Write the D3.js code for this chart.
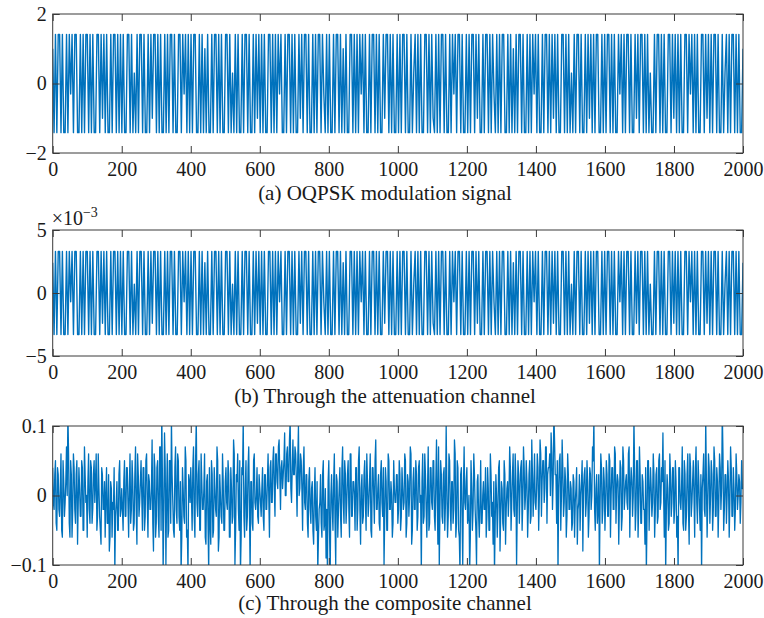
<!DOCTYPE html>
<html>
<head>
<meta charset="utf-8">
<script src="https://cdn.jsdelivr.net/npm/d3@7"></script>
<style>
  body { margin: 0; background: #fff; }
  svg { display: block; }
  text { font-family: "Liberation Serif", "Times New Roman", serif; fill: #1a1a1a; }
</style>
</head>
<body>
<div id="chart"></div>
<script>
// Shared sample axis
const sampleCount = 2000;
const xTicks = [0, 200, 400, 600, 800, 1000, 1200, 1400, 1600, 1800, 2000];

// OQPSK waveform, one vertex every ~4 samples.
// A/a = +-peak, B/b = shoulder level, C/c = near-zero kink
const oqpskSymbols = [
  'BaAaAAaAaaAaAcAaAAaaAaAaAAaAaAaaAAaAbAaAaaAaAAaAaA',
  'aAaaAAaAaCaAaAAaAaaAaAbAAaAaAaaAaAaAAaAaaAAaAcAaAa',
  'AaAAaaAaAaBaAaaAaAAaAaAaaAAaAaCaAaAaaAaAAaAaaAaAbA',
  'aAaAaaAAaAaAaAcAaaAaAAaAaAaaAbAaAAaAaaAaAaAAaAcaAa',
  'AaaAaAAaAaBaAaaAAaAaAaAcAaAaaAaAAaAaAaaAbAAaAaAaaA',
  'aAaAAaAaaAaCAaAaAaaAAaAaAbaAaAaAAaAaaAaAcAaAAaAaaA',
  'aAaAAaAbAaaAaAAaAaAcaAaAaAAaaAaAaBaAaAAaAaaAaAaAcA',
  'aAaaAaAAaAaAbAaAaaAAaAaAaCaAaAAaAaaAaAbAaAaAAaaAaA',
  'aAAaAaAaaAcAaAaAAaAaaAbAaAAaAaAaCaaAaAAaAaAaaAAaAb',
  'AaAaAaaAAaAcAaAaAaaAAaAbAaAaAAaAaaAaCAaAaAAaAaAaaB'
].join('');

// level of each symbol in panel (a) and after attenuation in panel (b)
const oqpskLevels = { A: 1.414, a: -1.414, B: 1.0, b: -1.0, C: 0.3, c: -0.3 };
const attenuatedLevels = { A: 3.3e-3, a: -3.3e-3, B: 2.4e-3, b: -2.4e-3, C: 0.7e-3, c: -0.7e-3 };

// Composite channel output. Letter scale: A = -0.12 ... M = 0 ... Y = +0.12 (0.01 steps)
const compositeScale = 'ABCDEFGHIJKLMNOPQRSTUVWXY';
// even vertices (every 4 samples)
const compositeEven = [
  'QKRHPJSGOLTYIRGSKPFQJRHTLGSIQKROHSJFPKGQIEOGKBLHPJ',
  'NHRJQGSKOITFPLRHQJSGOKUEQIRGTYBVCSHRXLGTIRHBQJTGBO',
  'QHTGXJRHOKSFPBIRGQKTEPJSHOLRGQIUCPSHBQXGRJTBOHSKQI',
  'NJQHPKSGRLTJSNUKRPVMTOXLUPSJWNRHTKPGQIOFQHBKPGRIDB',
  'RBPHSCOKQGTIPLRGSJOHQKTFPJRHOLSGQIUKPHRJCQHSKOGRLP',
  'IRHQKSGPJTFOKRHQLBSJPGTIQKRHUFCRJPHWGSKOIUGRHBQCTK',
  'QJBRHSKCPGRIOKGQHSJFBPGQEOIRFNJTHPKSCRIQHTKRGPIUJS',
  'KSHUJRLTIQSVKYPIBRHUJQGSKOHPGNFLHOEPJRGQKTXHPKBSIQ',
  'HRJSGQKTIPFRHTKOLSGQJXHRGTIPKFBRHQJSGPIRKQVGBPHSJQ',
  'IRGBQKTHPJSFQLRGTIOHBPKXGSIRHTJQGSKYHPIRGTJQHSKPIRN'
].join('');
// odd vertices, in between the even ones
const compositeOdd = [
  'LPIQKNHRJOMSGPKQIRLNJQHPMOKRIPLSJNHQKOMIPGNLQJOHRK',
  'KOJQLNIRHPKSJOMQHRLPKNISGQJTHOKQMGRIPHQKSJOGNIRHPL',
  'MQJRLPHSKNGOIQFPHNJRGMIOHQKPGNJSHOKRGPJNHQKOIRLMJP',
  'LNJPKOMQLRNSOTPQNRMSOUNQPTORMSNQLPIOKNHMJOGLIPHNKO',
  'HMKOIPGNJQLRIPKSJOMQHRKNIPLSJOHQMRKNIPLQJOHRKMINLP',
  'KPJNLRIOMSHQKPJRMOISKNHQLRJOMTKPIQLNJRHOKSIQGPJNLO',
  'IMGNKPHOJLIMKQJNHPLOIMKRJNHPKOMQLSJOKPNRLQMOKRJPNL',
  'NQMSORNTPQMSOUPRNSMQLOJPKNIOLQKPMRNQLOJPMRKNIPLQKO',
  'LPJRMQKSNOLQJRMPKTNOMQKRLPIOKQJRMNLPKQJSLOMRKNIPLQ',
  'KOJQLNIRHPKSJOMQLRKPNSJOLQMPKRJOLQNSKPMOLQJNKPMOLN'
].join('');

const titles = [
  '(a) OQPSK modulation signal',
  '(b) Through the attenuation channel',
  '(c) Through the composite channel'
];

const width = 764, height = 618;
const lineColor = '#0072bd';
const axisColor = '#3a3a3a';
const tickLen = 7;

const decodeLevels = (codes, table) => Array.from(codes, ch => table[ch]);
const letterValue = ch => (compositeScale.indexOf(ch) - 12) * 0.01;
function interleave(even, odd) {
  const out = [];
  for (let i = 0; i < even.length; i++) {
    out.push(letterValue(even[i]));
    if (i < odd.length && i < even.length - 1) out.push(letterValue(odd[i]));
  }
  return out;
}

const panels = [
  {
    values: decodeLevels(oqpskSymbols, oqpskLevels),
    top: 14, bottom: 153,
    domain: [-2, 2], ticks: [-2, 0, 2],
    fmt: d3.format('d'),
    titleY: 200, strokeW: 1.4
  },
  {
    values: decodeLevels(oqpskSymbols, attenuatedLevels),
    top: 230, bottom: 356,
    domain: [-5e-3, 5e-3], ticks: [-5e-3, 0, 5e-3],
    fmt: v => d3.format('d')(Math.round(v * 1e3)),
    exponent: '\u22123',
    titleY: 403, strokeW: 1.4
  },
  {
    values: interleave(compositeEven, compositeOdd),
    top: 426, bottom: 565,
    domain: [-0.1, 0.1], ticks: [-0.1, 0, 0.1],
    fmt: d3.format('~g'),
    titleY: 610, strokeW: 1.3
  }
];

const svg = d3.select('#chart').append('svg')
  .attr('width', width)
  .attr('height', height);

const x = d3.scaleLinear().domain([0, sampleCount]).range([52.7, 743]);

panels.forEach((p, k) => {
  const y = d3.scaleLinear().domain(p.domain).range([p.bottom, p.top]);
  const g = svg.append('g');
  const clipId = `clip-${k}`;

  svg.append('clipPath').attr('id', clipId)
    .append('rect')
    .attr('x', x(0)).attr('y', p.top)
    .attr('width', x(sampleCount) - x(0)).attr('height', p.bottom - p.top);

  const n = p.values.length;
  const line = d3.line()
    .x((d, i) => x(i * sampleCount / (n - 1)))
    .y(d => y(d));

  g.append('path')
    .datum(p.values)
    .attr('clip-path', `url(#${clipId})`)
    .attr('fill', 'none')
    .attr('stroke', lineColor)
    .attr('stroke-width', p.strokeW)
    .attr('stroke-linejoin', 'round')
    .attr('d', line);

  // box
  g.append('rect')
    .attr('x', x(0)).attr('y', p.top)
    .attr('width', x(sampleCount) - x(0)).attr('height', p.bottom - p.top)
    .attr('fill', 'none').attr('stroke', axisColor).attr('stroke-width', 1);

  // axes with inward ticks, MATLAB style (ticks on all four sides)
  const bottomAxis = d3.axisBottom(x).tickValues(xTicks).tickSizeInner(-tickLen).tickSizeOuter(0)
    .tickPadding(9).tickFormat(d3.format('d'));
  const topAxis = d3.axisTop(x).tickValues(xTicks).tickSizeInner(-tickLen).tickSizeOuter(0).tickFormat('');
  const leftAxis = d3.axisLeft(y).tickValues(p.ticks).tickSizeInner(-tickLen).tickSizeOuter(0)
    .tickPadding(6).tickFormat(p.fmt);
  const rightAxis = d3.axisRight(y).tickValues(p.ticks).tickSizeInner(-tickLen).tickSizeOuter(0).tickFormat('');

  const axes = [
    [bottomAxis, `translate(0,${p.bottom})`],
    [topAxis, `translate(0,${p.top})`],
    [leftAxis, `translate(${x(0)},0)`],
    [rightAxis, `translate(${x(sampleCount)},0)`]
  ];
  axes.forEach(([axis, tr]) => {
    const a = g.append('g').attr('transform', tr).call(axis);
    a.select('.domain').remove();
    a.selectAll('line').attr('stroke', axisColor);
    a.selectAll('text')
      .attr('font-family', '"Liberation Serif", "Times New Roman", serif')
      .attr('font-size', 20)
      .attr('fill', '#1a1a1a');
  });

  if (p.exponent) {
    const t = g.append('text')
      .attr('x', x(0) - 1).attr('y', p.top - 5)
      .attr('font-size', 20);
    t.append('tspan').text('\u00d710');
    t.append('tspan').attr('dy', -8).attr('font-size', 14).text(p.exponent);
  }

  g.append('text')
    .attr('x', 385).attr('y', p.titleY)
    .attr('text-anchor', 'middle')
    .attr('font-size', 21)
    .text(titles[k]);
});
</script>
</body>
</html>
